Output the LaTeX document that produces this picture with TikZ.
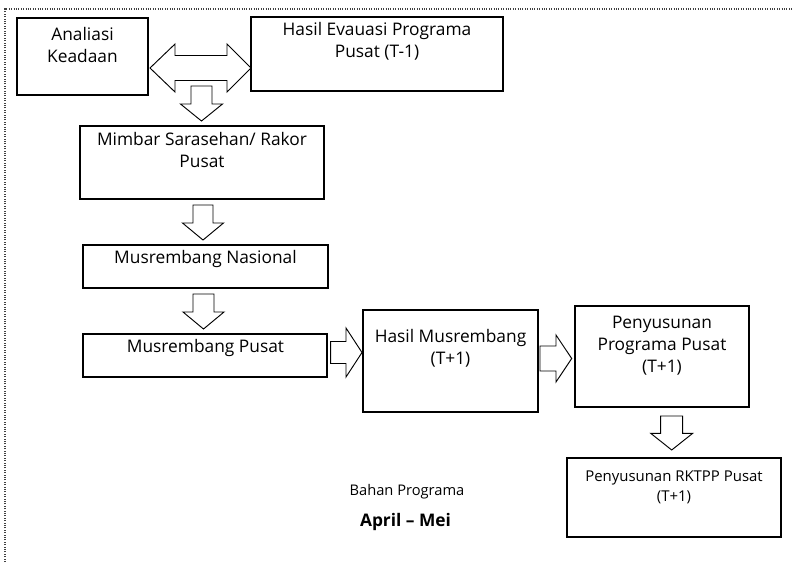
\documentclass[tikz,border=0pt]{standalone}
\usepackage{fontspec}
\setmainfont{Open Sans}
\begin{document}
\begin{tikzpicture}[x=0.75pt,y=-0.75pt,
  boxnode/.style={draw=black,line width=1.1pt,fill=white,inner sep=0pt,outer sep=0pt},
  blockarrow/.style={draw=black,line width=0.7pt,fill=white,line join=miter},
  lblmain/.style={font=\fontsize{13}{16.5}\selectfont,align=center,inner sep=0pt,anchor=north},
  lblsmall/.style={font=\fontsize{11.2}{15}\selectfont,align=center,inner sep=0pt,anchor=north},
  frameline/.style={draw=black!75,line width=0.8pt,densely dotted}]
\useasboundingbox (0,0) rectangle (792,562);
\newcommand{\mkbox}[5]{\node[boxnode,minimum width={(#4-#2)*0.75pt},minimum height={(#5-#3)*0.75pt}] (#1) at ({(#2+#4)/2},{(#3+#5)/2}) {};}
\newcommand{\dnarrow}[6]{\draw[blockarrow] ({#1-#5},#2) -- ({#1+#5},#2) -- ({#1+#5},#3) -- ({#1+#6},#3) -- (#1,#4) -- ({#1-#6},#3) -- ({#1-#5},#3) -- cycle;}
\newcommand{\rtarrow}[6]{\draw[blockarrow] (#2,{#1-#5}) -- (#3,{#1-#5}) -- (#3,{#1-#6}) -- (#4,#1) -- (#3,{#1+#6}) -- (#3,{#1+#5}) -- (#2,{#1+#5}) -- cycle;}
% frame
\draw[frameline] (5,562) -- (5,9) -- (792,9);
% boxes
\mkbox{b1}{17}{18}{148}{95}
\mkbox{b2}{251}{17}{503}{91}
\mkbox{b3}{80}{126}{324}{199}
\mkbox{b4}{83}{245}{328}{288}
\mkbox{b5}{83}{334}{327}{377}
\mkbox{b6}{363}{310}{538}{412}
\mkbox{b7}{575}{306}{749}{407}
\mkbox{b8}{567}{458}{781}{537}
% labels
\node[lblmain] (t1) at (82.5,24.6) {\strut Analiasi\\Keadaan};
\node[lblmain] (t2) at (377,20.3) {\strut Hasil Evauasi Programa\\Pusat (T-1)};
\node[lblmain] (t3) at (202,130.3) {\strut Mimbar Sarasehan/ Rakor\\Pusat};
\node[lblmain] (t4) at (205.5,247.9) {\strut Musrembang Nasional};
\node[lblmain] (t5) at (205.5,337.3) {\strut Musrembang Pusat};
\node[lblmain] (t6) at (450.5,327.3) {\strut Hasil Musrembang\\(T+1)};
\node[lblmain] (t7) at (662,313.1) {\strut Penyusunan\\Programa Pusat\\(T+1)};
\node[lblsmall] (t8) at (674,467.7) {\strut Penyusunan RKTPP Pusat\\(T+1)};
\node[font=\fontsize{11}{13}\selectfont,inner sep=0pt,anchor=base] (t9) at (407,495.7) {Bahan Programa};
\node[font=\fontsize{13}{15}\selectfont\bfseries,inner sep=0pt,anchor=base] (t10) at (405.5,526.7) {April -- Mei};
% double arrow between b1 and b2
\draw[blockarrow] (150,68) -- (175,44) -- (175,55.5) -- (227,55.5) -- (227,44) -- (251,68) -- (227,92) -- (227,80.5) -- (175,80.5) -- (175,92) -- cycle;
% down arrows
\dnarrow{201.5}{86}{104}{121}{10.5}{21}
\dnarrow{203}{205}{223}{240}{10}{20.5}
\dnarrow{203.5}{294}{312}{329}{10.5}{20.5}
\dnarrow{671.7}{416}{433.3}{450}{11}{21}
% right arrows
\rtarrow{352.5}{330.7}{346}{362}{11}{24.5}
\rtarrow{358.5}{540}{556}{571.7}{12.5}{23.5}
\end{tikzpicture}
\end{document}
